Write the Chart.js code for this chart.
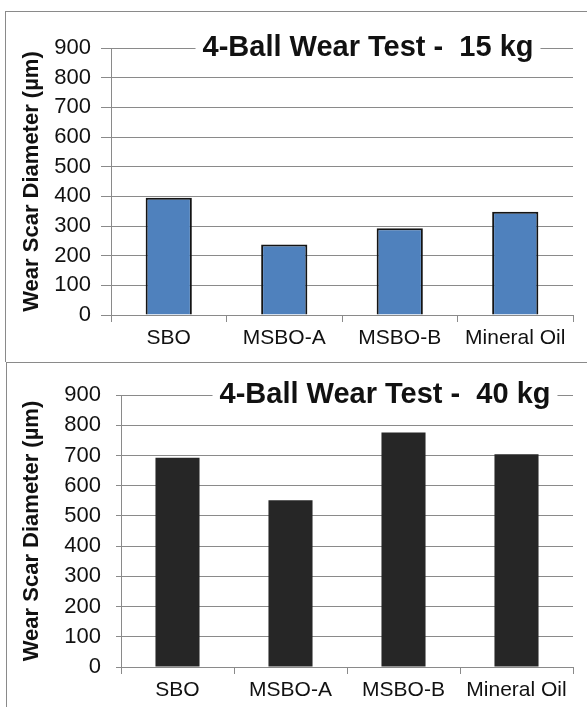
<!DOCTYPE html>
<html>
<head>
<meta charset="utf-8">
<script src="https://cdn.jsdelivr.net/npm/chart.js@4"></script>
<style>
  html, body { margin: 0; padding: 0; background: #fff; overflow: hidden; }
  .panel { position: absolute; box-sizing: border-box; border-left: 1px solid #8a8a8a; border-top: 1px solid #8a8a8a; }
  #p1 { left: 5px; top: 11px; width: 582px; height: 351px; }
  #p2 { left: 6px; top: 362px; width: 581px; height: 345px; }
  canvas { display: block; }
</style>
</head>
<body>
<div class="panel" id="p1"><canvas id="c15" width="581" height="350"></canvas></div>
<div class="panel" id="p2"><canvas id="c40" width="580" height="344"></canvas></div>
<script>
const categories = ['SBO', 'MSBO-A', 'MSBO-B', 'Mineral Oil'];
const wear15 = [395, 238, 292, 348];
const wear40 = [692, 552, 776, 704];
const yTicks = [0, 100, 200, 300, 400, 500, 600, 700, 800, 900];

const FONT = '"Liberation Sans", Arial, sans-serif';
const gridGrey = '#8a8a8a';

// title sits on the top gridline with a white box behind it
const titleBox = {
  id: 'titleBox',
  afterDraw(chart, args, opts) {
    const { ctx, chartArea, scales } = chart;
    const y = scales.y;
    ctx.save();
    ctx.font = 'bold 29px ' + FONT;
    const w = ctx.measureText(opts.text).width;
    const cx = (chartArea.left + chartArea.right) / 2 + opts.shift;
    const cy = y.getPixelForValue(y.max);
    ctx.fillStyle = '#fff';
    ctx.fillRect(cx - w / 2 - 7, cy - 17, w + 14, 34);
    ctx.fillStyle = '#111';
    ctx.textAlign = 'center';
    ctx.textBaseline = 'middle';
    ctx.fillText(opts.text, cx, cy);
    ctx.restore();
  }
};

function makeChart(id, values, cfg) {
  const canvas = document.getElementById(id);
  return new Chart(canvas, {
    type: 'bar',
    data: {
      labels: categories,
      datasets: [{
        data: values,
        backgroundColor: cfg.fill,
        borderColor: cfg.edge,
        borderWidth: cfg.edgeWidth,
        barPercentage: cfg.barPct,
        categoryPercentage: 1
      }]
    },
    options: {
      responsive: false,
      animation: false,
      layout: {
        padding: { left: 0, right: canvas.width - cfg.area.right, top: cfg.area.top, bottom: 0 }
      },
      plugins: {
        legend: { display: false },
        tooltip: { enabled: false },
        titleBox: { text: cfg.title, shift: cfg.shift }
      },
      scales: {
        x: {
          grid: { drawOnChartArea: false, offset: true, tickLength: 7, color: gridGrey },
          border: { display: true, color: gridGrey },
          ticks: { color: '#111', font: { family: FONT, size: 21 }, padding: 4 },
          afterFit(scale) { scale.height = canvas.height - cfg.area.bottom; }
        },
        y: {
          min: 0,
          max: 900,
          afterBuildTicks(scale) { scale.ticks = yTicks.map(v => ({ value: v })); },
          grid: { color: gridGrey, tickLength: cfg.tickLen },
          border: { display: true, color: gridGrey },
          ticks: { color: '#111', font: { family: FONT, size: 22 }, padding: cfg.tickPad },
          title: {
            display: true,
            text: 'Wear Scar Diameter (µm)',
            color: '#111',
            font: { family: FONT, size: 22, weight: 'bold' },
            padding: { top: cfg.titlePad, bottom: 0 }
          },
          afterFit(scale) { scale.width = cfg.area.left; }
        }
      }
    },
    plugins: [titleBox]
  });
}

makeChart('c15', wear15, {
  title: '4-Ball Wear Test -  15 kg',
  shift: 26,
  fill: '#4f81bd',
  edge: '#141414',
  edgeWidth: 2,
  barPct: 0.4,
  area: { left: 105, right: 567, top: 36, bottom: 303 },
  tickLen: 10,
  tickPad: 10,
  titlePad: 13
});

makeChart('c40', wear40, {
  title: '4-Ball Wear Test -  40 kg',
  shift: 38,
  fill: '#262626',
  edge: '#262626',
  edgeWidth: 0,
  barPct: 0.39,
  area: { left: 114, right: 566, top: 32, bottom: 304 },
  tickLen: 5,
  tickPad: 15,
  titlePad: 12
});
</script>
</body>
</html>
